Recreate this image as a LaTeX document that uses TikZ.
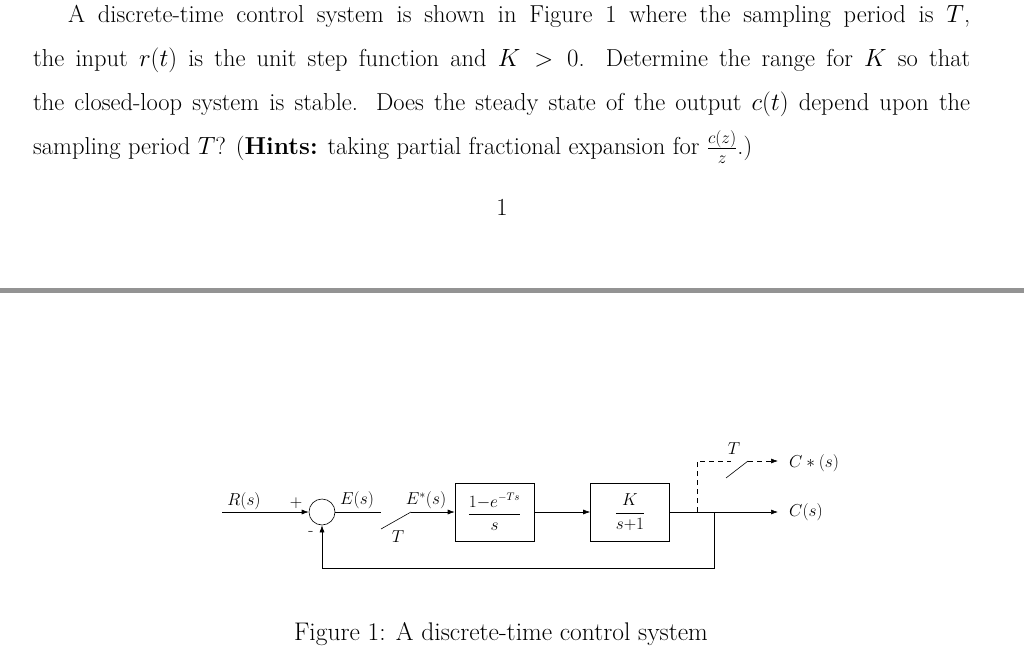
\documentclass[tikz,border=0pt]{standalone}
\usetikzlibrary{arrows.meta}
\begin{document}
\begin{tikzpicture}[x=1pt,y=-1pt,
  lbl/.style={font=\fontsize{17}{20}\selectfont,inner sep=0pt},
  blk/.style={draw,semithick,minimum width=79pt,minimum height=58pt,inner sep=0pt,font=\fontsize{16}{19}\selectfont},
  sig/.style={semithick,-{Latex[length=7pt,width=5pt]}},
  ln/.style={semithick},
  dsh/.style={semithick,dash pattern=on 5pt off 4pt}]
\useasboundingbox (0,0) rectangle (1024,650);
\node[anchor=north west,inner sep=0pt,text width=937pt,align=justify,font=\fontsize{24.5}{44}\selectfont] (txt) at (33,5)
{\hspace*{35pt}A discrete-time control system is shown in Figure 1 where the sampling period is $T$,\linebreak
the input $r(t)$ is the unit step function and $K>0$. Determine the range for $K$ so that\linebreak
the closed-loop system is stable. Does the steady state of the output $c(t)$ depend upon the\linebreak
sampling period $T$? (\textbf{Hints:} taking partial fractional expansion for $\frac{c(z)}{z}$.)};
\node[font=\fontsize{24.5}{28}\selectfont,inner sep=0pt] (pg) at (502,207) {1};
\fill[gray!85] (0,287.5) rectangle (1024,292.5);
\node[font=\fontsize{25.5}{28}\selectfont,inner sep=0pt] (cap) at (501,634) {Figure 1: A discrete-time control system};
% diagram
\coordinate (rin) at (222,512);
\node[draw,semithick,circle,minimum size=26pt,inner sep=0pt] (sum) at (322,512) {};
\coordinate (eend) at (381,512);
\coordinate (sw1) at (381,529);
\coordinate (sw2) at (411,512);
\node[blk] (b1) at (494.5,512) {$\displaystyle\frac{1{-}e^{-Ts}}{s}$};
\node[blk] (b2) at (630,512) {$\displaystyle\frac{K}{s{+}1}$};
\coordinate (out) at (778,512);
\coordinate (fb) at (714,512);
\coordinate (fbd) at (714,568);
\coordinate (fbl) at (322,568);
\coordinate (dbr) at (697,512);
\coordinate (dup) at (697,461);
\coordinate (dsw) at (731,461);
\coordinate (s2a) at (726,478);
\coordinate (s2b) at (748,461);
\coordinate (out2) at (778,461);
\draw[sig] (rin) -- (sum.west);
\draw[ln] (sum.east) -- (eend);
\draw[ln] (sw1) -- (sw2);
\draw[sig] (sw2) -- (b1.west);
\draw[sig] (b1.east) -- (b2.west);
\draw[sig] (b2.east) -- (out);
\draw[ln] (fb) -- (fbd) -- (fbl);
\draw[sig] (fbl) -- (sum.south);
\draw[dsh] (dbr) -- (dup) -- (dsw);
\draw[ln] (s2a) -- (s2b);
\draw[dsh,-{Latex[length=7pt,width=5pt]}] (s2b) -- (out2);
\node[lbl] (lr) at (244,501) {$R(s)$};
\node[lbl] (lp) at (296,503) {$+$};
\node[lbl] (lm) at (311,533) {-};
\node[lbl] (le) at (357,500) {$E(s)$};
\node[lbl] (lt1) at (398,537) {$T$};
\node[lbl] (les) at (426,500) {$E^{*}(s)$};
\node[lbl,anchor=west] (lc) at (789,512) {$C(s)$};
\node[lbl,anchor=west] (lcs) at (789,463) {$C*(s)$};
\node[lbl] (lt2) at (734,449) {$T$};
\end{tikzpicture}
\end{document}
